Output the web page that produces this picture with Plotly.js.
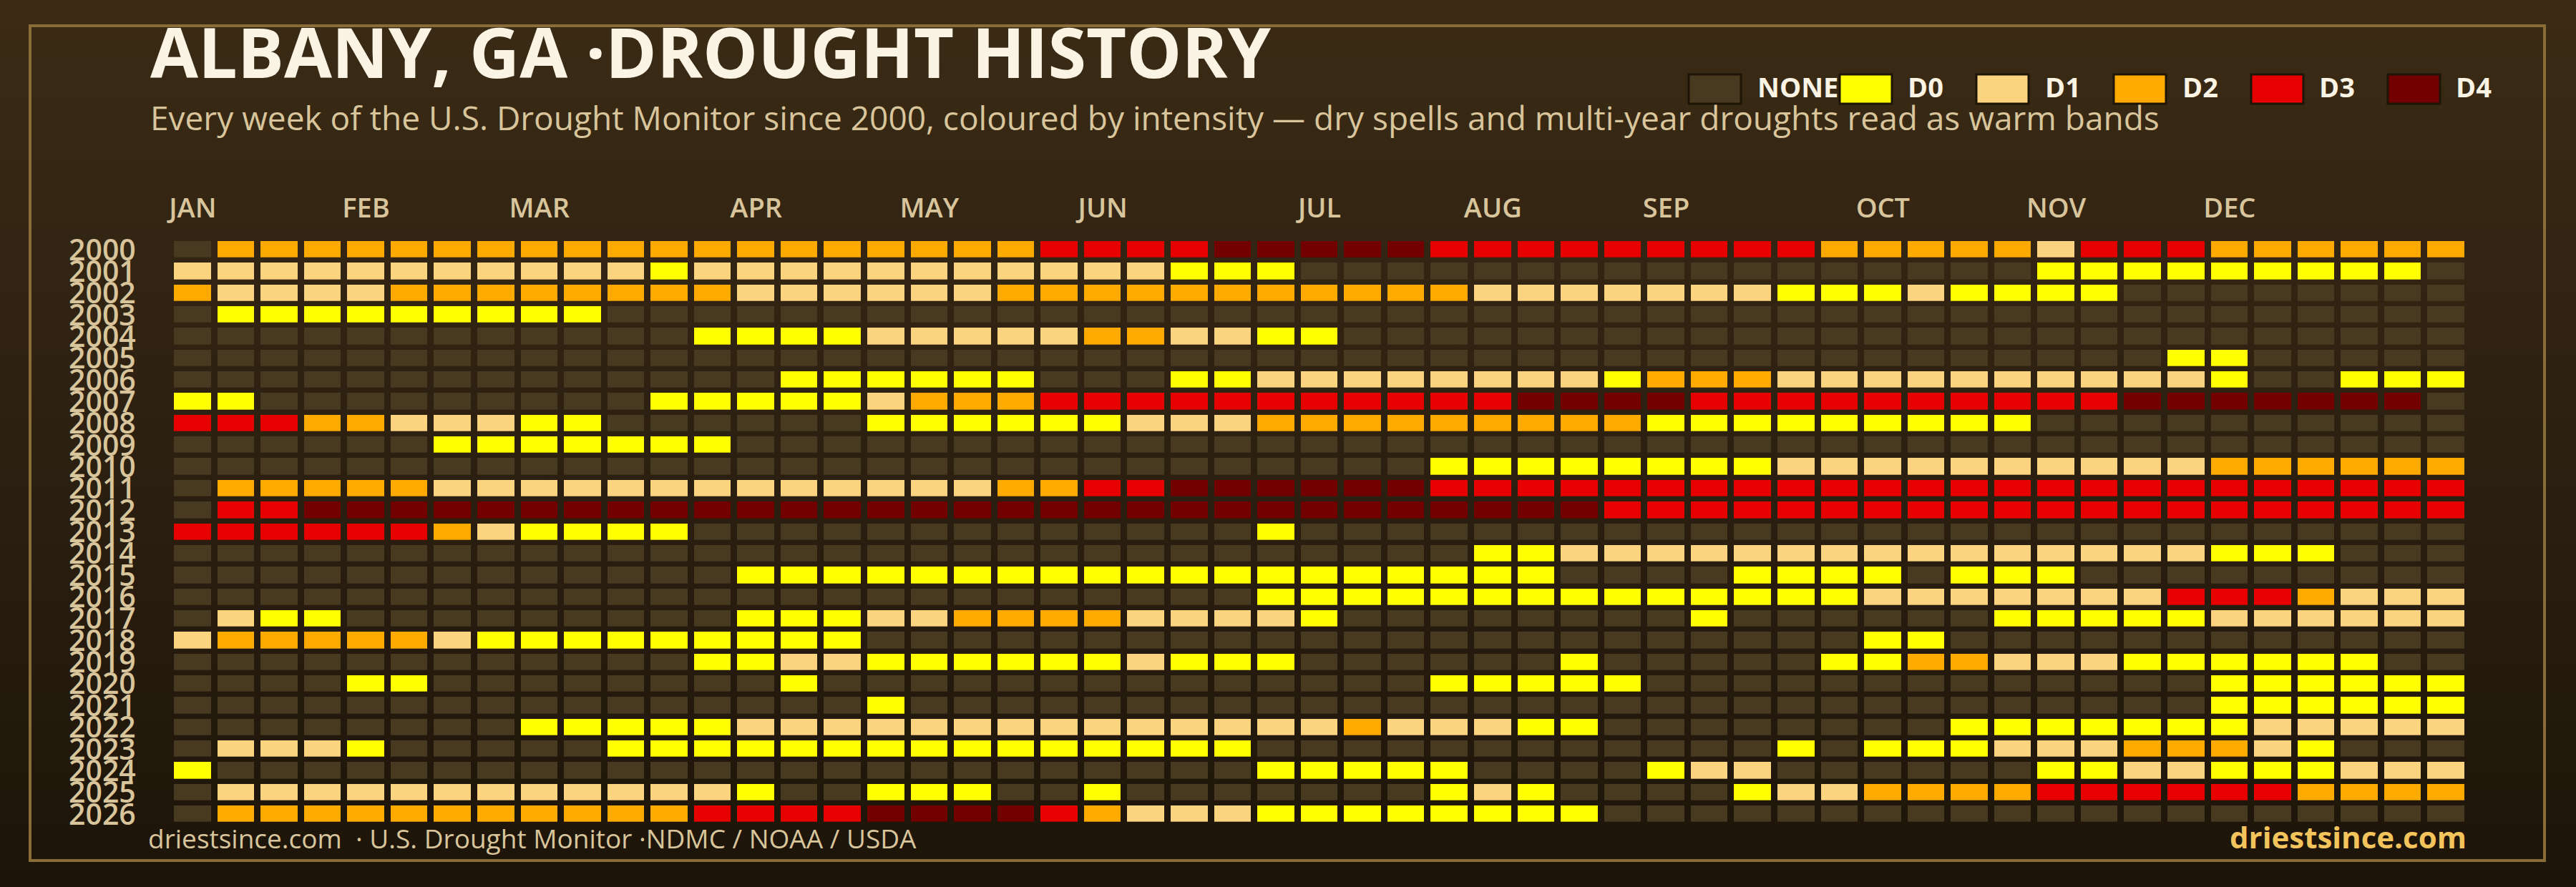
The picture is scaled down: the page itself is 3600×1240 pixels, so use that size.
<!DOCTYPE html>
<html><head><meta charset="utf-8">
<script src="https://cdn.plot.ly/plotly-3.0.1.min.js"></script>
<style>
html,body{margin:0;padding:0;background:#1d1409;}
#chart{width:3600px;height:1240px;background:linear-gradient(to bottom,#3b2b15 0%,#2c2011 50%,#1d1409 100%);}
</style></head><body><div id="chart"></div>
<script>
// ---- DATA ----
const categories = ['NONE','D0','D1','D2','D3','D4'];
const catColors  = ['#483a20','#ffff00','#fcd37f','#ffaa00','#e60000','#730000'];
const years = [2000,2001,2002,2003,2004,2005,2006,2007,2008,2009,2010,2011,2012,2013,2014,2015,2016,2017,2018,2019,2020,2021,2022,2023,2024,2025,2026];
const weeks = [1,2,3,4,5,6,7,8,9,10,11,12,13,14,15,16,17,18,19,20,21,22,23,24,25,26,27,28,29,30,31,32,33,34,35,36,37,38,39,40,41,42,43,44,45,46,47,48,49,50,51,52,53];
const monthWeeks  = [1,5,9,14,18,22,27,31,35,40,44,48];
const monthLabels = ['JAN','FEB','MAR','APR','MAY','JUN','JUL','AUG','SEP','OCT','NOV','DEC'];

// intensity per week: 0=NONE 1=D0 2=D1 3=D2 4=D3 5=D4
const y2000 = [0,3,3,3,3,3,3,3,3,3, 3,3,3,3,3,3,3,3,3,3, 4,4,4,4,5,5,5,5,5,4, 4,4,4,4,4,4,4,4,3,3, 3,3,3,2,4,4,4,3,3,3, 3,3,3];
const y2001 = [2,2,2,2,2,2,2,2,2,2, 2,1,2,2,2,2,2,2,2,2, 2,2,2,1,1,1,0,0,0,0, 0,0,0,0,0,0,0,0,0,0, 0,0,0,1,1,1,1,1,1,1, 1,1,0];
const y2002 = [3,2,2,2,2,3,3,3,3,3, 3,3,3,2,2,2,2,2,2,3, 3,3,3,3,3,3,3,3,3,3, 2,2,2,2,2,2,2,1,1,1, 2,1,1,1,1,0,0,0,0,0, 0,0,0];
const y2003 = [0,1,1,1,1,1,1,1,1,1, 0,0,0,0,0,0,0,0,0,0, 0,0,0,0,0,0,0,0,0,0, 0,0,0,0,0,0,0,0,0,0, 0,0,0,0,0,0,0,0,0,0, 0,0,0];
const y2004 = [0,0,0,0,0,0,0,0,0,0, 0,0,1,1,1,1,2,2,2,2, 2,3,3,2,2,1,1,0,0,0, 0,0,0,0,0,0,0,0,0,0, 0,0,0,0,0,0,0,0,0,0, 0,0,0];
const y2005 = [0,0,0,0,0,0,0,0,0,0, 0,0,0,0,0,0,0,0,0,0, 0,0,0,0,0,0,0,0,0,0, 0,0,0,0,0,0,0,0,0,0, 0,0,0,0,0,0,1,1,0,0, 0,0,0];
const y2006 = [0,0,0,0,0,0,0,0,0,0, 0,0,0,0,1,1,1,1,1,1, 0,0,0,1,1,2,2,2,2,2, 2,2,2,1,3,3,3,2,2,2, 2,2,2,2,2,2,2,1,0,0, 1,1,1];
const y2007 = [1,1,0,0,0,0,0,0,0,0, 0,1,1,1,1,1,2,3,3,3, 4,4,4,4,4,4,4,4,4,4, 4,5,5,5,5,4,4,4,4,4, 4,4,4,4,4,5,5,5,5,5, 5,5,0];
const y2008 = [4,4,4,3,3,2,2,2,1,1, 0,0,0,0,0,0,1,1,1,1, 1,1,2,2,2,3,3,3,3,3, 3,3,3,3,1,1,1,1,1,1, 1,1,1,0,0,0,0,0,0,0, 0,0,0];
const y2009 = [0,0,0,0,0,0,1,1,1,1, 1,1,1,0,0,0,0,0,0,0, 0,0,0,0,0,0,0,0,0,0, 0,0,0,0,0,0,0,0,0,0, 0,0,0,0,0,0,0,0,0,0, 0,0,0];
const y2010 = [0,0,0,0,0,0,0,0,0,0, 0,0,0,0,0,0,0,0,0,0, 0,0,0,0,0,0,0,0,0,1, 1,1,1,1,1,1,1,2,2,2, 2,2,2,2,2,2,2,3,3,3, 3,3,3];
const y2011 = [0,3,3,3,3,3,2,2,2,2, 2,2,2,2,2,2,2,2,2,3, 3,4,4,5,5,5,5,5,5,4, 4,4,4,4,4,4,4,4,4,4, 4,4,4,4,4,4,4,4,4,4, 4,4,4];
const y2012 = [0,4,4,5,5,5,5,5,5,5, 5,5,5,5,5,5,5,5,5,5, 5,5,5,5,5,5,5,5,5,5, 5,5,5,4,4,4,4,4,4,4, 4,4,4,4,4,4,4,4,4,4, 4,4,4];
const y2013 = [4,4,4,4,4,4,3,2,1,1, 1,1,0,0,0,0,0,0,0,0, 0,0,0,0,0,1,0,0,0,0, 0,0,0,0,0,0,0,0,0,0, 0,0,0,0,0,0,0,0,0,0, 0,0,0];
const y2014 = [0,0,0,0,0,0,0,0,0,0, 0,0,0,0,0,0,0,0,0,0, 0,0,0,0,0,0,0,0,0,0, 1,1,2,2,2,2,2,2,2,2, 2,2,2,2,2,2,2,1,1,1, 0,0,0];
const y2015 = [0,0,0,0,0,0,0,0,0,0, 0,0,0,1,1,1,1,1,1,1, 1,1,1,1,1,1,1,1,1,1, 1,1,0,0,0,0,1,1,1,1, 0,1,1,1,0,0,0,0,0,0, 0,0,0];
const y2016 = [0,0,0,0,0,0,0,0,0,0, 0,0,0,0,0,0,0,0,0,0, 0,0,0,0,0,1,1,1,1,1, 1,1,1,1,1,1,1,1,1,2, 2,2,2,2,2,2,4,4,4,3, 2,2,2];
const y2017 = [0,2,1,1,0,0,0,0,0,0, 0,0,0,1,1,1,2,2,3,3, 3,3,2,2,2,2,1,0,0,0, 0,0,0,0,0,1,0,0,0,0, 0,0,1,1,1,1,1,2,2,2, 2,2,2];
const y2018 = [2,3,3,3,3,3,2,1,1,1, 1,1,1,1,1,1,0,0,0,0, 0,0,0,0,0,0,0,0,0,0, 0,0,0,0,0,0,0,0,0,1, 1,0,0,0,0,0,0,0,0,0, 0,0,0];
const y2019 = [0,0,0,0,0,0,0,0,0,0, 0,0,1,1,2,2,1,1,1,1, 1,1,2,1,1,1,0,0,0,0, 0,0,1,0,0,0,0,0,1,1, 3,3,2,2,2,1,1,1,1,1, 1,0,0];
const y2020 = [0,0,0,0,1,1,0,0,0,0, 0,0,0,0,1,0,0,0,0,0, 0,0,0,0,0,0,0,0,0,1, 1,1,1,1,0,0,0,0,0,0, 0,0,0,0,0,0,0,1,1,1, 1,1,1];
const y2021 = [0,0,0,0,0,0,0,0,0,0, 0,0,0,0,0,0,1,0,0,0, 0,0,0,0,0,0,0,0,0,0, 0,0,0,0,0,0,0,0,0,0, 0,0,0,0,0,0,0,1,1,1, 1,1,1];
const y2022 = [0,0,0,0,0,0,0,0,1,1, 1,1,1,2,2,2,2,2,2,2, 2,2,2,2,2,2,2,3,2,2, 2,1,1,0,0,0,0,0,0,0, 0,1,1,1,1,1,1,1,2,2, 2,2,2];
const y2023 = [0,2,2,2,1,0,0,0,0,0, 1,1,1,1,1,1,1,1,1,1, 1,1,1,1,1,0,0,0,0,0, 0,0,0,0,0,0,0,1,0,1, 1,1,2,2,2,3,3,3,2,1, 0,0,0];
const y2024 = [1,0,0,0,0,0,0,0,0,0, 0,0,0,0,0,0,0,0,0,0, 0,0,0,0,0,1,1,1,1,1, 0,0,0,0,1,2,2,0,0,0, 0,0,0,1,1,2,2,1,1,1, 2,2,2];
const y2025 = [0,2,2,2,2,2,2,2,2,2, 2,2,2,1,0,0,1,1,1,0, 0,1,0,0,0,0,0,0,0,1, 2,1,0,0,0,0,1,2,2,3, 3,3,3,4,4,4,4,4,4,3, 3,3,3];
const y2026 = [0,3,3,3,3,3,3,3,3,3, 3,3,4,4,4,4,5,5,5,5, 4,3,2,2,2,1,1,1,1,1, 1,1,1,0,0,0,0,0,0,0, 0,0,0,0,0,0,0,0,0,0, 0,0,0];

const rows = [y2000,y2001,y2002,y2003,y2004,y2005,y2006,y2007,y2008,y2009,y2010,y2011,y2012,y2013,y2014,y2015,y2016,y2017,y2018,y2019,y2020,y2021,y2022,y2023,y2024,y2025,y2026];

const titleText = 'ALBANY, GA ·DROUGHT HISTORY';
const subtitleText = 'Every week of the U.S. Drought Monitor since 2000, coloured by intensity — dry spells and multi-year droughts read as warm bands';
const sourceText = 'driestsince.com  · U.S. Drought Monitor ·NDMC / NOAA / USDA';
const brandText = 'driestsince.com';

// ---- LAYOUT HELPERS ----
const W = 3600, H = 1240;
const fx = v => v / W;
const fy = v => 1 - v / H;
const FONT = 'Open Sans, Noto Sans, sans-serif';
const TAN = '#d9c59c';

const colorscale = [];
catColors.forEach((c, i) => { colorscale.push([i / 6, c]); colorscale.push([(i + 1) / 6, c]); });

const heat = {
  type: 'heatmap', x: weeks, y: years, z: rows,
  zmin: -0.5, zmax: 5.5, colorscale: colorscale, showscale: false,
  xgap: 9, ygap: 7.3, hoverinfo: 'skip'
};

// legend boxes and labels (layout positions)
const legendBoxLeft = [2360, 2571, 2762, 2954, 3146, 3337];
const legendLabelLeft = [2454, 2664, 2856, 3048, 3239, 3430];
const shapes = [{
  type: 'rect', xref: 'paper', yref: 'paper',
  x0: fx(42), x1: fx(3556), y0: fy(1203), y1: fy(36),
  line: {color: '#8a6c38', width: 4}, fillcolor: 'rgba(0,0,0,0)', layer: 'below'
}];
const annotations = [];
categories.forEach((cat, i) => {
  shapes.push({type: 'rect', xref: 'paper', yref: 'paper',
    x0: fx(legendBoxLeft[i]), x1: fx(legendBoxLeft[i] + 73), y0: fy(145), y1: fy(104),
    fillcolor: catColors[i], line: {color: '#1e1509', width: 3}});
  annotations.push({xref: 'paper', yref: 'paper', x: fx(legendLabelLeft[i]), y: fy(121),
    xanchor: 'left', yanchor: 'middle', showarrow: false, text: cat,
    font: {family: FONT, size: 38, weight: 700, color: '#fbf4e4'}});
});
annotations.push({xref: 'paper', yref: 'paper', x: fx(208), y: fy(71), xanchor: 'left', yanchor: 'middle',
  showarrow: false, text: titleText, font: {family: FONT, size: 97, weight: 700, color: '#fbf4e4'}});
annotations.push({xref: 'paper', yref: 'paper', x: fx(208), y: fy(164), xanchor: 'left', yanchor: 'middle',
  showarrow: false, text: subtitleText, font: {family: FONT, size: 46, weight: 500, color: TAN}});
annotations.push({xref: 'paper', yref: 'paper', x: fx(205), y: fy(1171), xanchor: 'left', yanchor: 'middle',
  showarrow: false, text: sourceText, font: {family: FONT, size: 37, color: TAN}});
annotations.push({xref: 'paper', yref: 'paper', x: fx(3449), y: fy(1169), xanchor: 'right', yanchor: 'middle',
  showarrow: false, text: brandText, font: {family: FONT, size: 42, weight: 700, color: '#f4c45c'}});

const layout = {
  width: W, height: H,
  margin: {l: 0, r: 0, t: 0, b: 0},
  paper_bgcolor: 'rgba(0,0,0,0)', plot_bgcolor: 'rgba(0,0,0,0)',
  showlegend: false,
  xaxis: {
    domain: [fx(239), fx(3449)], range: [0.5, 53.5], side: 'top',
    tickmode: 'array', tickvals: monthWeeks, ticktext: monthLabels,
    ticks: 'outside', ticklen: 14, tickcolor: 'rgba(0,0,0,0)',
    showgrid: false, zeroline: false, showline: false, fixedrange: true,
    tickfont: {family: FONT, size: 38, weight: 600, color: TAN}
  },
  yaxis: {
    domain: [fy(1153.4), fy(334)], range: [2026.5, 1999.5],
    tickmode: 'array', tickvals: years, ticktext: years.map(String),
    ticks: 'outside', ticklen: 40, tickcolor: 'rgba(0,0,0,0)',
    showgrid: false, zeroline: false, showline: false, fixedrange: true,
    tickfont: {family: FONT, size: 41, weight: 600, color: TAN}
  },
  shapes: shapes, annotations: annotations
};

Plotly.newPlot('chart', [heat], layout, {staticPlot: true, displayModeBar: false});
</script></body></html>
